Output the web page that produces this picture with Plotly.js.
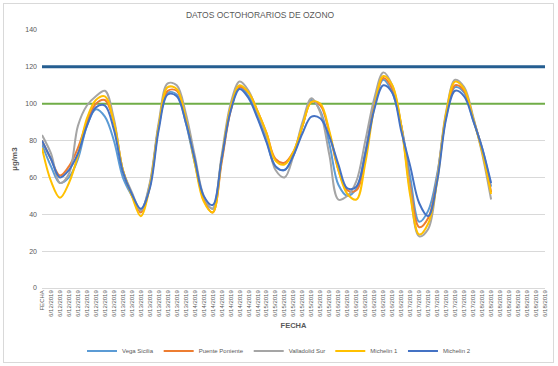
<!DOCTYPE html>
<html>
<head>
<meta charset="utf-8">
<script src="https://cdn.plot.ly/plotly-3.0.1.min.js"></script>
<style>
  html, body { margin: 0; padding: 0; background: #ffffff; }
  #wrap { position: relative; width: 558px; height: 366px; }
  #chart { width: 558px; height: 366px; }
  #frame { position: absolute; left: 3px; top: 3px; width: 549px; height: 358px; border: 1px solid #d9d9d9; pointer-events: none; }
</style>
</head>
<body>
<div id="wrap"><div id="chart"></div><div id="frame"></div></div>
<script>
// Category labels (x axis)
const days = ["6/12/2019", "6/13/2019", "6/14/2019", "6/15/2019", "6/16/2019", "6/17/2019", "6/18/2019"];
const fechas = ["FECHA"];
days.forEach(d => { for (let k = 0; k < 8; k++) fechas.push(d); });

// Series values (µg/m3), one per category starting at the first one
const vegaSicilia = [78,66,57,60,70,88,97,93,80,60,50,42,56,88,106,105,90,68,49,43,70,97,109,104,93,80,66,64,72,88,102,96,78,56,50,54,74,100,113,106,88,60,36,42,62,93,109,106,91,76,55];
const puentePoniente = [80,70,61,66,76,90,100,102,90,64,51,41,55,88,107,107,93,70,48,41,68,96,109,106,96,84,70,68,74,88,101,99,84,64,53,53,72,99,114,108,88,55,33,38,60,94,110,107,92,75,52];
const valladolidSur = [83,73,57,62,88,99,104,107,92,64,52,42,57,90,111,110,95,72,50,43,72,100,112,107,95,82,64,60,72,90,103,95,72,48,50,58,80,103,117,110,88,52,28,32,60,96,113,109,93,73,48];
const michelin1 = [76,58,49,57,72,92,102,104,90,64,50,39,55,88,109,108,92,68,47,41,70,98,110,106,96,84,69,67,74,88,101,100,85,64,51,48,68,98,115,110,88,50,29,35,58,95,112,108,92,74,51];
const michelin2 = [80,70,60,64,73,88,98,99,86,63,51,43,54,86,105,104,90,70,50,45,70,96,108,103,92,79,66,64,72,84,93,92,82,67,54,55,73,97,110,106,85,66,46,39,58,92,107,104,91,76,57];

// Reference limits
const limiteAlto = 120;
const limiteBajo = 100;

const seriesNames = ["Vega Sicilia", "Puente Poniente", "Valladolid Sur", "Michelin 1", "Michelin 2"];
const seriesData = [vegaSicilia, puentePoniente, valladolidSur, michelin1, michelin2];
const seriesColors = ["#5B9BD5", "#ED7D31", "#A5A5A5", "#FFC000", "#4472C4"];

const idx = fechas.map((_, i) => i);
const firstIdx = idx[0], lastIdx = idx[idx.length - 1];

const traces = [
  { x: [firstIdx, lastIdx], y: [limiteAlto, limiteAlto], mode: "lines", showlegend: false, hoverinfo: "skip",
    line: { color: "#255E91", width: 3 } },
  { x: [firstIdx, lastIdx], y: [limiteBajo, limiteBajo], mode: "lines", showlegend: false, hoverinfo: "skip",
    line: { color: "#70AD47", width: 2 } }
];
seriesData.forEach((arr, s) => {
  traces.push({
    x: arr.map((_, i) => idx[i]),
    y: arr,
    name: seriesNames[s],
    mode: "lines",
    line: { color: seriesColors[s], width: 2, shape: "spline", smoothing: 1 }
  });
});

const layout = {
  width: 558, height: 366,
  margin: { l: 42, r: 13, t: 30, b: 78 },
  paper_bgcolor: "#ffffff", plot_bgcolor: "#ffffff",
  font: { family: "Liberation Sans, Arial, sans-serif", color: "#595959" },
  title: { text: "DATOS OCTOHORARIOS DE OZONO", font: { size: 8.5, color: "#595959" },
           x: 0.466, xref: "container", xanchor: "center", y: 0.959, yref: "container", yanchor: "middle" },
  xaxis: {
    range: [firstIdx, lastIdx],
    tickmode: "array", tickvals: idx, ticktext: fechas,
    tickangle: -90, tickfont: { size: 6, color: "#595959" },
    showgrid: false, zeroline: false, showline: false, ticks: "",
    title: { text: "FECHA", font: { size: 7.5, color: "#595959", weight: "bold" }, standoff: 6 },
    fixedrange: true
  },
  yaxis: {
    range: [0, 140], tickvals: [0, 20, 40, 60, 80, 100, 120, 140],
    tickfont: { size: 7, color: "#595959" },
    showgrid: true, gridcolor: "#d9d9d9", gridwidth: 1,
    zeroline: true, zerolinecolor: "#d9d9d9", zerolinewidth: 1,
    showline: false, ticks: "", ticklabelstandoff: 4,
    title: { text: "µg/m3", font: { size: 8, color: "#595959", weight: "bold" }, standoff: 6 },
    fixedrange: true
  },
  showlegend: true,
  legend: { orientation: "h", x: 0.5, xref: "container", xanchor: "center",
            y: 0.041, yref: "container", yanchor: "middle",
            font: { size: 6, color: "#595959" }, itemwidth: 30, bgcolor: "rgba(0,0,0,0)" }
};

Plotly.newPlot("chart", traces, layout, { displayModeBar: false, staticPlot: true });
</script>
</body>
</html>
